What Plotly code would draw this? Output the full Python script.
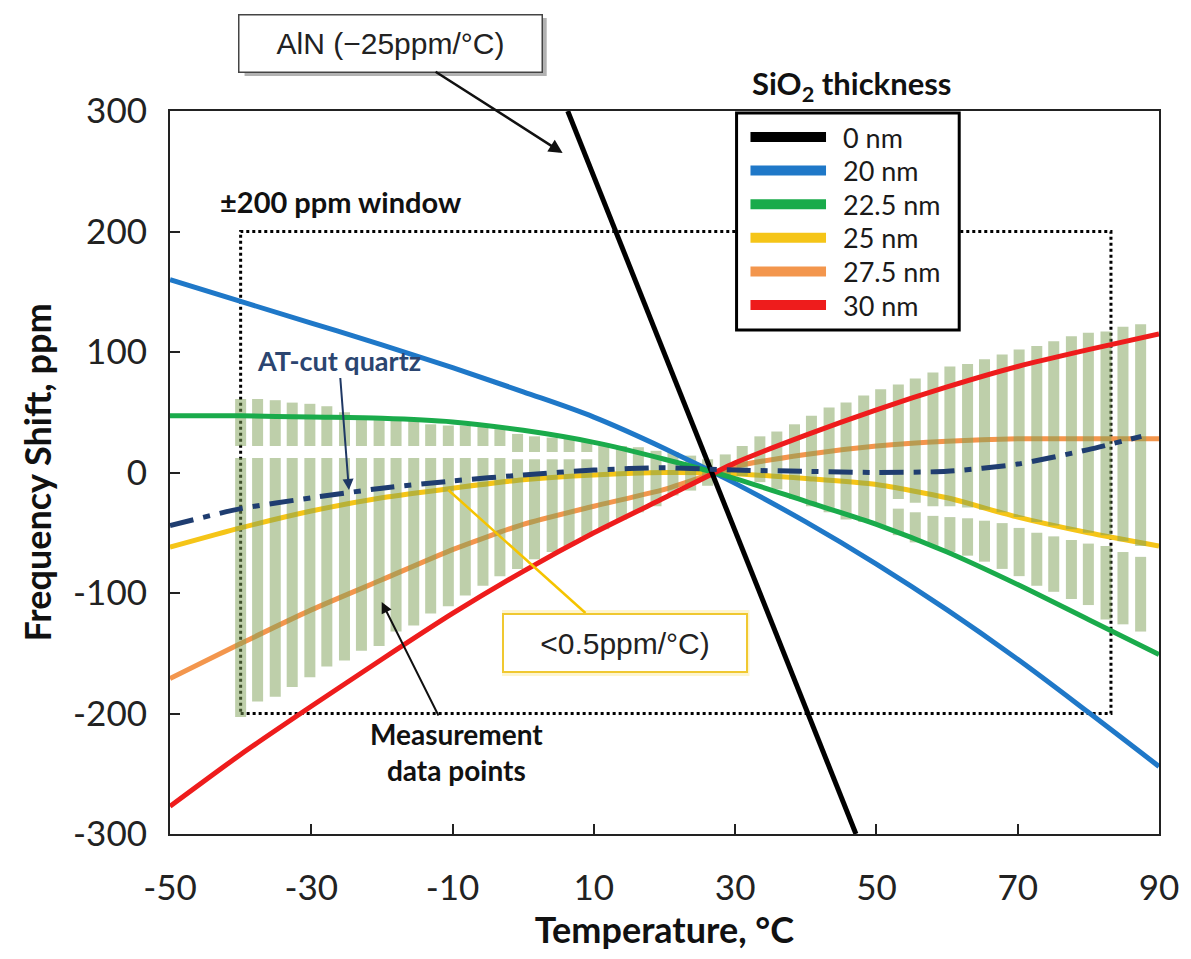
import plotly.graph_objects as go

# ---------------- data ----------------
temp_curve = [-50, -40, -30, -20, -10, 0, 10, 20, 30, 40, 50, 60, 70, 80, 90]
sio2_20nm = [160, 142, 124, 106, 87, 67, 46, 20, -9, -41, -76, -114, -155, -199, -244]
sio2_22_5nm = [47, 47, 46, 45, 42, 35, 25, 11, -5, -24, -43, -66, -93, -122, -151]
sio2_25nm = [-62, -46, -32, -21, -13, -6, -2, 0, -1, -5, -10, -21, -37, -50, -61]
sio2_27_5nm = [-171, -142, -114, -89, -64, -43, -28, -14, 5, 15, 22, 26, 28, 28, 28]
sio2_30nm = [-277, -234, -194, -155, -117, -82, -50, -21, 8, 31, 52, 71, 88, 102, 115]

temp_aln = [6.3, 47.1]
sio2_0nm = [300, -300]

temp_quartz = [-50, -40, -30, -20, -10, 0, 10, 20, 30, 40, 50, 60, 70, 80, 87.5]
at_cut_quartz = [-44, -30, -21, -13, -7, -2, 2, 4, 2, 1, 0, 1, 7, 19, 30]

meas_temp = [-40.0, -37.6, -35.1, -32.7, -30.2, -27.8, -25.3, -22.9, -20.4, -18.0,
             -15.5, -13.1, -10.6, -8.2, -5.7, -3.3, -0.8, 1.6, 4.1, 6.5,
             9.0, 11.4, 13.9, 16.3, 18.8, 21.2, 23.7, 26.1, 28.6, 31.0,
             33.5, 35.9, 38.4, 40.8, 43.3, 45.7, 48.2, 50.6, 53.1, 55.5,
             58.0, 60.4, 62.9, 65.3, 67.8, 70.2, 72.7, 75.1, 77.6, 80.0,
             82.5, 84.9, 87.4]
meas_top = [61, 61, 60, 58, 57, 55, 50, 46, 46, 44, 43, 40, 39, 39, 38, 36,
            32, 30, 29, 28, 26, 24, 22, 21, 18, 17, 14, 11, 15, 22,
            30, 34, 40, 47, 54, 58, 64, 69, 73, 78, 83, 88, 90, 94, 98, 102,
            105, 109, 113, 116, 117, 121, 123]
meas_gap_hi = [22] * 16 + [17] * 5 + [None] * 17 + [-22, -25, -28, -28, -29, -31, -33, -37,
                                                    -41, -44, -47, -50, -52, -57, -61]
meas_gap_lo = [12] * 16 + [11] * 5 + [None] * 17 + [-30, -33, -36, -37, -38, -40, -42, -46,
                                                    -50, -53, -56, -59, -61, -66, -70]
meas_bottom = [-203, -190, -186, -178, -170, -161, -156, -148, -144, -132, -127, -117, -111,
               -102, -94, -86, -80, -72, -66, -61, -53, -47, -39, -33, -28, -19, -15, -11,
               -5, -3, -8, -14, -22, -28, -33, -39, -41, -44, -52, -58, -61, -66, -69, -74,
               -80, -86, -94, -99, -105, -110, -122, -126, -132]

legend_labels = ["0 nm", "20 nm", "22.5 nm", "25 nm", "27.5 nm", "30 nm"]
legend_colors = ["#000000", "#1f78c8", "#1aab4b", "#f5c518", "#f3964d", "#ee1c1c"]

x_ticks = [-50, -30, -10, 10, 30, 50, 70, 90]
y_ticks = [-300, -200, -100, 0, 100, 200, 300]

# ---------------- layout helpers (pixel -> paper) ----------------
L, R, T, B = 170, 1165, 111, 834


def xp(px):
    return (px - L) / (R - L)


def yp(py):
    return (B - py) / (B - T)


# measurement columns as vertical segments
mx, my = [], []
for t, top, ghi, glo, bot in zip(meas_temp, meas_top, meas_gap_hi, meas_gap_lo, meas_bottom):
    if ghi is None:
        mx += [t, t, None]
        my += [top, bot, None]
    else:
        mx += [t, t, None, t, t, None]
        my += [top, ghi, None, glo, bot, None]

fig = go.Figure()

# curves beneath the data points
fig.add_trace(go.Scatter(x=temp_curve, y=sio2_25nm, mode="lines", name="25 nm",
                         line=dict(color=legend_colors[3], width=5, shape="spline", smoothing=0.6)))
fig.add_trace(go.Scatter(x=temp_curve, y=sio2_27_5nm, mode="lines", name="27.5 nm",
                         line=dict(color=legend_colors[4], width=5, shape="spline", smoothing=0.6)))

fig.add_trace(go.Scatter(x=mx, y=my, mode="lines", name="Measurement data points",
                         line=dict(color="rgba(125,160,85,0.50)", width=11),
                         connectgaps=False))

fig.add_trace(go.Scatter(x=temp_curve, y=sio2_20nm, mode="lines", name="20 nm",
                         line=dict(color=legend_colors[1], width=5, shape="spline", smoothing=1.0)))
fig.add_trace(go.Scatter(x=temp_curve, y=sio2_22_5nm, mode="lines", name="22.5 nm",
                         line=dict(color=legend_colors[2], width=5, shape="spline", smoothing=0.8)))
fig.add_trace(go.Scatter(x=temp_curve, y=sio2_30nm, mode="lines", name="30 nm",
                         line=dict(color=legend_colors[5], width=5, shape="spline", smoothing=0.6)))
fig.add_trace(go.Scatter(x=temp_aln, y=sio2_0nm, mode="lines", name="0 nm",
                         line=dict(color="#000000", width=5)))
fig.add_trace(go.Scatter(x=temp_quartz, y=at_cut_quartz, mode="lines", name="AT-cut quartz",
                         line=dict(color="#1f3d70", width=5, dash="24px,10px,7px,10px",
                                   shape="spline", smoothing=0.6)))

shapes = []
# +-200 ppm window
shapes.append(dict(type="rect", xref="x", yref="y", x0=-40, x1=83.2, y0=-200, y1=200,
                   line=dict(color="black", width=3, dash="dot"), layer="below"))
# AlN box shadow
shapes.append(dict(type="rect", xref="paper", yref="paper", x0=xp(245), x1=xp(549),
                   y0=yp(76), y1=yp(18), fillcolor="rgba(0,0,0,0.30)", line=dict(width=0),
                   layer="above"))
# glow for <0.5ppm box
shapes.append(dict(type="rect", xref="paper", yref="paper", x0=xp(504), x1=xp(753),
                   y0=yp(676), y1=yp(610), fillcolor="rgba(250,215,60,0.25)", line=dict(width=0),
                   layer="above"))
# yellow connector
shapes.append(dict(type="line", xref="paper", yref="paper", x0=xp(450), y0=yp(490),
                   x1=xp(588), y1=yp(613), line=dict(color="#f5c400", width=2.5)))
# legend box
shapes.append(dict(type="rect", xref="paper", yref="paper", x0=xp(740), x1=xp(964),
                   y0=yp(330), y1=yp(113), fillcolor="white",
                   line=dict(color="black", width=3), layer="above"))

annotations = []
for i, (lab, col) in enumerate(zip(legend_labels, legend_colors)):
    ypx = 137 + i * 33.6
    shapes.append(dict(type="line", xref="paper", yref="paper", x0=xp(754), x1=xp(830),
                       y0=yp(ypx), y1=yp(ypx), line=dict(color=col, width=10), layer="above"))
    annotations.append(dict(xref="paper", yref="paper", x=xp(845), y=yp(ypx), text=lab,
                            showarrow=False, xanchor="left", yanchor="middle",
                            font=dict(family="Lato", size=27, color="#1a1a1a")))

annotations += [
    dict(xref="paper", yref="paper", x=xp(856), y=yp(86), text="SiO<sub>2</sub> thickness",
         showarrow=False, xanchor="center", yanchor="middle",
         font=dict(family="Lato", size=31, color="#111111", weight="bold")),
    dict(xref="paper", yref="paper", x=xp(218), y=yp(201), text="±200 ppm window",
         showarrow=False, xanchor="left", yanchor="middle",
         font=dict(family="Lato", size=29, color="#111111", weight="bold")),
    # AlN label with its arrow (tip at x, y; box centred at tip + (ax, ay))
    dict(xref="paper", yref="paper", x=xp(565), y=yp(153), ax=393 - 565, ay=43 - 153,
         text="AlN (−25ppm/°C)", showarrow=True, arrowhead=2, arrowsize=1.1,
         arrowwidth=2.5, arrowcolor="#111111", standoff=0,
         width=296, height=50, bgcolor="white", bordercolor="#444444",
         borderwidth=1.5, borderpad=3,
         font=dict(family="Liberation Sans", size=30, color="#222222")),
    dict(xref="paper", yref="paper", x=xp(350), y=yp(490), ax=340 - 350, ay=360 - 490,
         text="AT-cut quartz", showarrow=True, arrowhead=2, arrowsize=1.1, arrowwidth=2,
         arrowcolor="#1f3864", standoff=0,
         font=dict(family="Lato", size=27, color="#2b4570", weight="bold")),
    dict(xref="paper", yref="paper", x=xp(628), y=yp(643), text="<0.5ppm/°C)",
         showarrow=False, xanchor="center", yanchor="middle", width=236, height=50,
         bgcolor="white", bordercolor="#f0c830", borderwidth=2, borderpad=3,
         font=dict(family="Liberation Sans", size=30, color="#222222")),
    dict(xref="paper", yref="paper", x=xp(383), y=yp(602), ax=458 - 383, ay=752 - 602,
         text="Measurement<br>data points", showarrow=True, arrowhead=2, arrowsize=1.1,
         arrowwidth=2, arrowcolor="#111111", standoff=0, align="center",
         font=dict(family="Lato", size=28, color="#111111", weight="bold")),
]

axis_common = dict(showgrid=False, zeroline=False, showline=True, mirror=True,
                   linecolor="#222222", linewidth=2, ticks="inside", ticklen=10,
                   tickwidth=2, tickcolor="#222222",
                   tickfont=dict(family="Lato", size=35, color="#222222"))

fig.update_layout(
    width=1191, height=959,
    margin=dict(l=L, r=1191 - R, t=T, b=959 - B),
    paper_bgcolor="white", plot_bgcolor="white",
    showlegend=False,
    xaxis=dict(range=[-50, 90], tickvals=x_ticks, ticktext=[str(v) for v in x_ticks],
               ticklabelstandoff=22,
               title=dict(text="Temperature, °C", standoff=10,
                          font=dict(family="Lato", size=36, color="#111111", weight="bold")),
               **axis_common),
    yaxis=dict(range=[-300, 300], tickvals=y_ticks, ticktext=[str(v) for v in y_ticks],
               ticklabelstandoff=14,
               title=dict(text="Frequency Shift, ppm", standoff=10,
                          font=dict(family="Lato", size=36, color="#111111", weight="bold")),
               **axis_common),
    shapes=shapes,
    annotations=annotations,
)

fig.write_html("out.html")
